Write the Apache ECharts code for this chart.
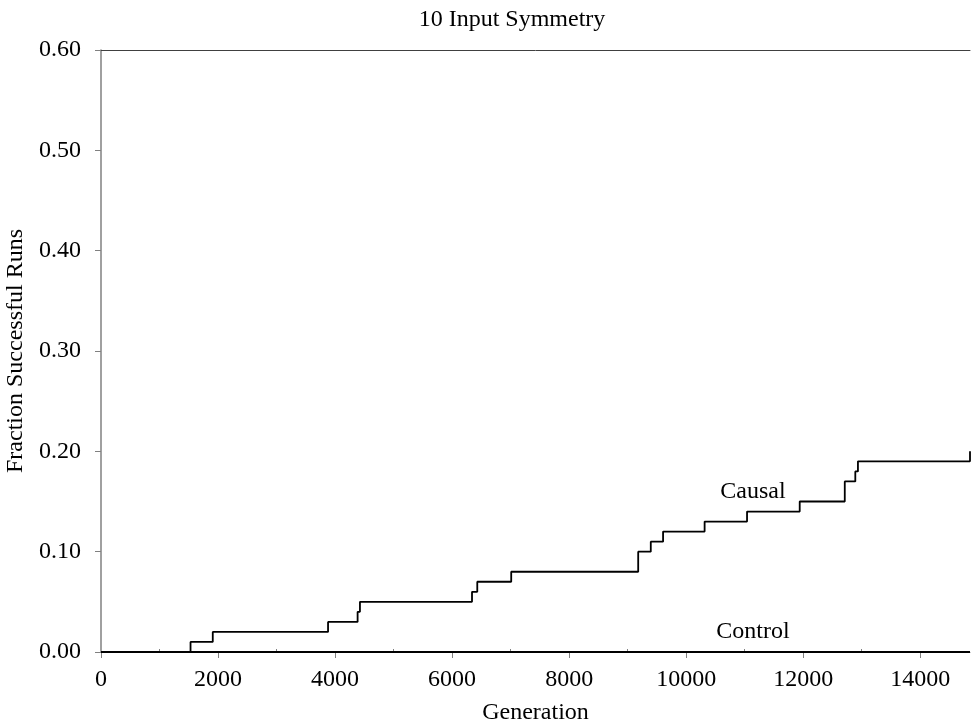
<!DOCTYPE html>
<html>
<head>
<meta charset="utf-8">
<script src="https://cdn.jsdelivr.net/npm/echarts@6/dist/echarts.min.js"></script>
<style>
html,body{margin:0;padding:0;background:#fff;}
#chart{width:971px;height:726px;}
</style>
</head>
<body>
<div id="chart"></div>
<script>
var titleText = '10 Input Symmetry';
var xName = 'Generation';
var yName = 'Fraction Successful Runs';
var causalX = [0, 1530, 1910, 3880, 4385, 4425, 6340, 6430, 7010, 9180, 9395, 9605, 10315, 11040, 11940, 12710, 12890, 12935, 14850];
var causalY = [0, 0.01, 0.02, 0.03, 0.04, 0.05, 0.06, 0.07, 0.08, 0.10, 0.11, 0.12, 0.13, 0.14, 0.15, 0.17, 0.18, 0.19, 0.20];
var controlX = [0, 14850];
var controlY = [0, 0];
var labelNames = ['Causal', 'Control'];
var labelX = [11140, 11140];
var labelY = [0.160, 0.020];
var xMin = 0, xMax = 14850, xStep = 2000;
var yMin = 0, yMax = 0.6, yStep = 0.1;

var FONT = "'Liberation Serif', 'Times New Roman', serif";
function zip(a, b) { return a.map(function (v, i) { return [v, b[i]]; }); }

var chart = echarts.init(document.getElementById('chart'));
chart.setOption({
  animation: false,
  backgroundColor: '#fff',
  title: {
    text: titleText, left: 507, top: 3, textAlign: 'center',
    textStyle: { fontFamily: FONT, fontSize: 24, fontWeight: 'normal', color: '#000' }
  },
  grid: { left: 101, right: 1, top: 50, bottom: 74, containLabel: false, outerBoundsMode: 'none' },
  xAxis: [
    {
      type: 'value', min: xMin, max: xMax, interval: xStep, position: 'bottom',
      name: xName, nameLocation: 'middle', nameGap: 49,
      nameTextStyle: { fontFamily: FONT, fontSize: 24, color: '#000' },
      axisLine: { show: true, lineStyle: { color: '#808080', width: 1 } },
      axisTick: { show: true, length: 6, lineStyle: { color: '#808080' } },
      axisLabel: { fontFamily: FONT, fontSize: 24, color: '#000', margin: 16, showMaxLabel: false,
        formatter: function (v) { return String(v); } },
      splitLine: { show: false }
    },
    {
      type: 'value', min: xMin, max: xMax, interval: xStep, position: 'top',
      axisLine: { show: true, lineStyle: { color: '#404040', width: 1 } },
      axisTick: { show: false }, axisLabel: { show: false }, splitLine: { show: false }
    },
    {
      type: 'value', min: xMin, max: xMax, interval: xStep, position: 'bottom',
      axisLine: { show: false },
      axisTick: { show: false, inside: true },
      minorTick: { show: true, splitNumber: 2, length: 3, lineStyle: { color: '#808080' } },
      axisLabel: { show: false }, splitLine: { show: false }
    }
  ],
  yAxis: {
    type: 'value', min: yMin, max: yMax, interval: yStep,
    name: yName, nameLocation: 'middle', nameGap: 67, nameRotate: 90,
    nameTextStyle: { fontFamily: FONT, fontSize: 24, color: '#000' },
    axisLine: { show: true, lineStyle: { color: '#808080', width: 1.5 } },
    axisTick: { show: true, length: 6, lineStyle: { color: '#808080' } },
    axisLabel: { fontFamily: FONT, fontSize: 24, color: '#000', margin: 20,
      formatter: function (v) { return v.toFixed(2); } },
    splitLine: { show: false }
  },
  series: [
    {
      type: 'line', name: 'Control', data: zip(controlX, controlY), step: 'end',
      showSymbol: false, symbol: 'none', lineStyle: { color: '#000', width: 2 }, z: 5
    },
    {
      type: 'line', name: 'Causal', data: zip(causalX, causalY), step: 'end',
      showSymbol: false, symbol: 'none', lineStyle: { color: '#000', width: 1.8 }, z: 5
    },
    {
      type: 'scatter', symbolSize: 0, silent: true,
      itemStyle: { opacity: 1, color: '#000' },
      data: labelNames.map(function (n, i) { return { name: n, value: [labelX[i], labelY[i]] }; }),
      label: { show: true, position: 'inside', formatter: '{b}', opacity: 1,
        fontFamily: FONT, fontSize: 24, color: '#000', textBorderWidth: 0 }
    }
  ]
});
</script>
</body>
</html>
